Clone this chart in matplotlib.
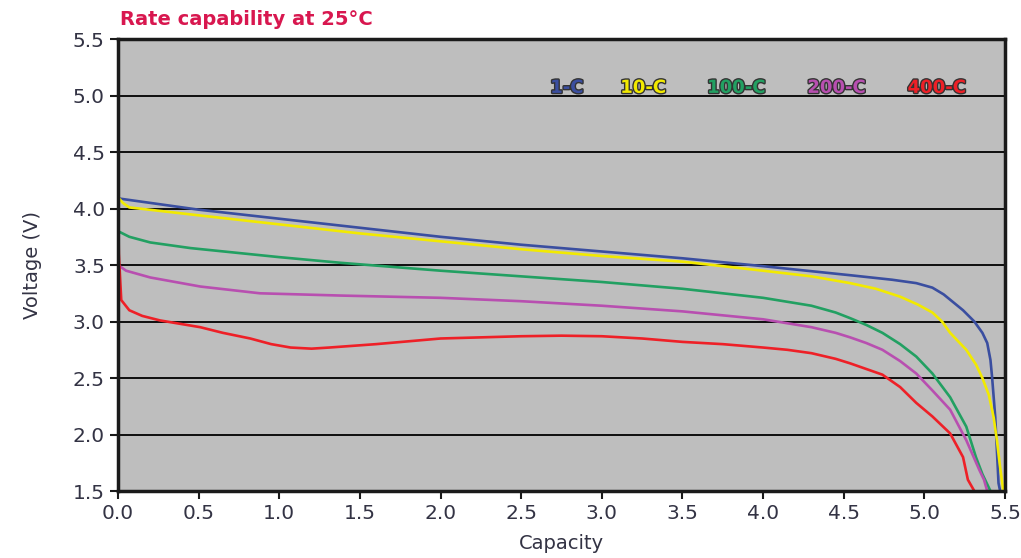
import matplotlib
matplotlib.use("Agg")
import matplotlib.pyplot as plt
import matplotlib.patheffects as pe

# discharge curves (capacity, voltage)
cap_1c = [0, 0.5, 1.0, 1.5, 2.0, 2.5, 3.0, 3.5, 4.0, 4.54, 4.8, 4.95, 5.05, 5.12, 5.18, 5.24, 5.31, 5.36, 5.39, 5.41, 5.42, 5.44, 5.46, 5.47]
v_1c = [4.09, 3.99, 3.91, 3.83, 3.75, 3.68, 3.62, 3.56, 3.49, 3.41, 3.37, 3.34, 3.3, 3.24, 3.17, 3.1, 3.0, 2.9, 2.81, 2.66, 2.51, 2.15, 1.57, 1.5]

cap_10c = [0, 0.03, 0.07, 0.5, 1.0, 1.5, 2.0, 2.5, 3.0, 3.5, 4.0, 4.3, 4.54, 4.7, 4.85, 4.96, 5.05, 5.11, 5.16, 5.26, 5.32, 5.36, 5.40, 5.43, 5.45, 5.47, 5.49]
v_10c = [4.1, 4.05, 4.01, 3.94, 3.86, 3.78, 3.71, 3.64, 3.58, 3.53, 3.45, 3.4, 3.34, 3.29, 3.22, 3.15, 3.08, 3.0, 2.9, 2.75, 2.62, 2.5, 2.35, 2.15, 1.95, 1.71, 1.5]

cap_100c = [0, 0.07, 0.2, 0.45, 1.0, 1.38, 2.0, 2.5, 3.0, 3.5, 4.0, 4.3, 4.45, 4.54, 4.64, 4.74, 4.85, 4.95, 5.05, 5.16, 5.26, 5.32, 5.36, 5.41]
v_100c = [3.8, 3.75, 3.7, 3.65, 3.57, 3.52, 3.45, 3.4, 3.35, 3.29, 3.21, 3.14, 3.08, 3.03, 2.97, 2.9, 2.8, 2.69, 2.54, 2.33, 2.07, 1.8, 1.65, 1.5]

cap_200c = [0, 0.05, 0.2, 0.51, 0.88, 1.38, 2.0, 2.5, 3.0, 3.5, 4.0, 4.3, 4.45, 4.54, 4.64, 4.74, 4.85, 4.95, 5.05, 5.16, 5.26, 5.34, 5.37, 5.39]
v_200c = [3.5, 3.45, 3.39, 3.31, 3.25, 3.23, 3.21, 3.18, 3.14, 3.09, 3.02, 2.95, 2.9, 2.86, 2.81, 2.75, 2.65, 2.54, 2.39, 2.22, 1.95, 1.69, 1.6, 1.5]

cap_400c = [0, 0.005, 0.02, 0.07, 0.15, 0.26, 0.51, 0.65, 0.82, 0.95, 1.07, 1.2, 1.31, 1.6, 2.0, 2.25, 2.5, 2.75, 3.0, 3.25, 3.5, 3.75, 4.0, 4.15, 4.3, 4.45, 4.54, 4.64, 4.74, 4.85, 4.95, 5.05, 5.16, 5.24, 5.27, 5.31]
v_400c = [4.12, 3.6, 3.19, 3.1, 3.05, 3.01, 2.95, 2.9, 2.85, 2.8, 2.77, 2.76, 2.77, 2.8, 2.85, 2.86, 2.87, 2.875, 2.87, 2.85, 2.82, 2.8, 2.77, 2.75, 2.72, 2.67, 2.63, 2.58, 2.53, 2.42, 2.28, 2.16, 2.01, 1.8, 1.6, 1.5]

labels = ["1-C", "10-C", "100-C", "200-C", "400-C"]
colors = ["#3a4ea0", "#f2ea00", "#22a062", "#b84fb0", "#ee2027"]
x_ticks = [0.0, 0.5, 1.0, 1.5, 2.0, 2.5, 3.0, 3.5, 4.0, 4.5, 5.0, 5.5]
y_ticks = [1.5, 2.0, 2.5, 3.0, 3.5, 4.0, 4.5, 5.0, 5.5]

fig = plt.figure(figsize=(10.21, 5.58), dpi=100)
ax = fig.add_axes([0.1156, 0.12, 0.8687, 0.81])
ax.set_facecolor("#bebebe")

series = [(cap_1c, v_1c), (cap_10c, v_10c), (cap_100c, v_100c), (cap_200c, v_200c), (cap_400c, v_400c)]
for (xs, ys), c in zip(series, colors):
    ax.plot(xs, ys, color=c, lw=1.9, solid_joinstyle="round")

ax.set_xlim(0, 5.5)
ax.set_ylim(1.5, 5.5)
ax.set_xticks(x_ticks)
ax.set_yticks(y_ticks)
ax.set_xticklabels([f"{t:.1f}" for t in x_ticks])
ax.set_yticklabels([f"{t:.1f}" for t in y_ticks])
for y in y_ticks[1:-1]:
    ax.axhline(y, color="black", lw=1.3, zorder=1)

for s in ax.spines.values():
    s.set_color("#1a1a1a")
    s.set_linewidth(2.5)
ax.tick_params(axis="both", direction="out", length=6, width=1.5, color="#1a1a1a",
               labelsize=14.5, labelcolor="#333344")
ax.tick_params(axis="x", pad=3)

ax.set_xlabel("Capacity", fontsize=14, color="#333344", labelpad=8)
ax.set_ylabel("Voltage (V)", fontsize=14, color="#333344", labelpad=22)

fig.text(0.118, 0.965, "Rate capability at 25°C", color="#d8174f", fontsize=14,
         fontweight="bold", ha="left", va="center")

legend_x = [0.506, 0.592, 0.697, 0.810, 0.923]
for lx, lab, c in zip(legend_x, labels, colors):
    ax.text(lx, 0.892, lab, transform=ax.transAxes, color=c, fontsize=13,
            fontweight="heavy", ha="center", va="center",
            path_effects=[pe.withStroke(linewidth=2.0, foreground="#333333")])

fig.savefig("out.png", dpi=100)
